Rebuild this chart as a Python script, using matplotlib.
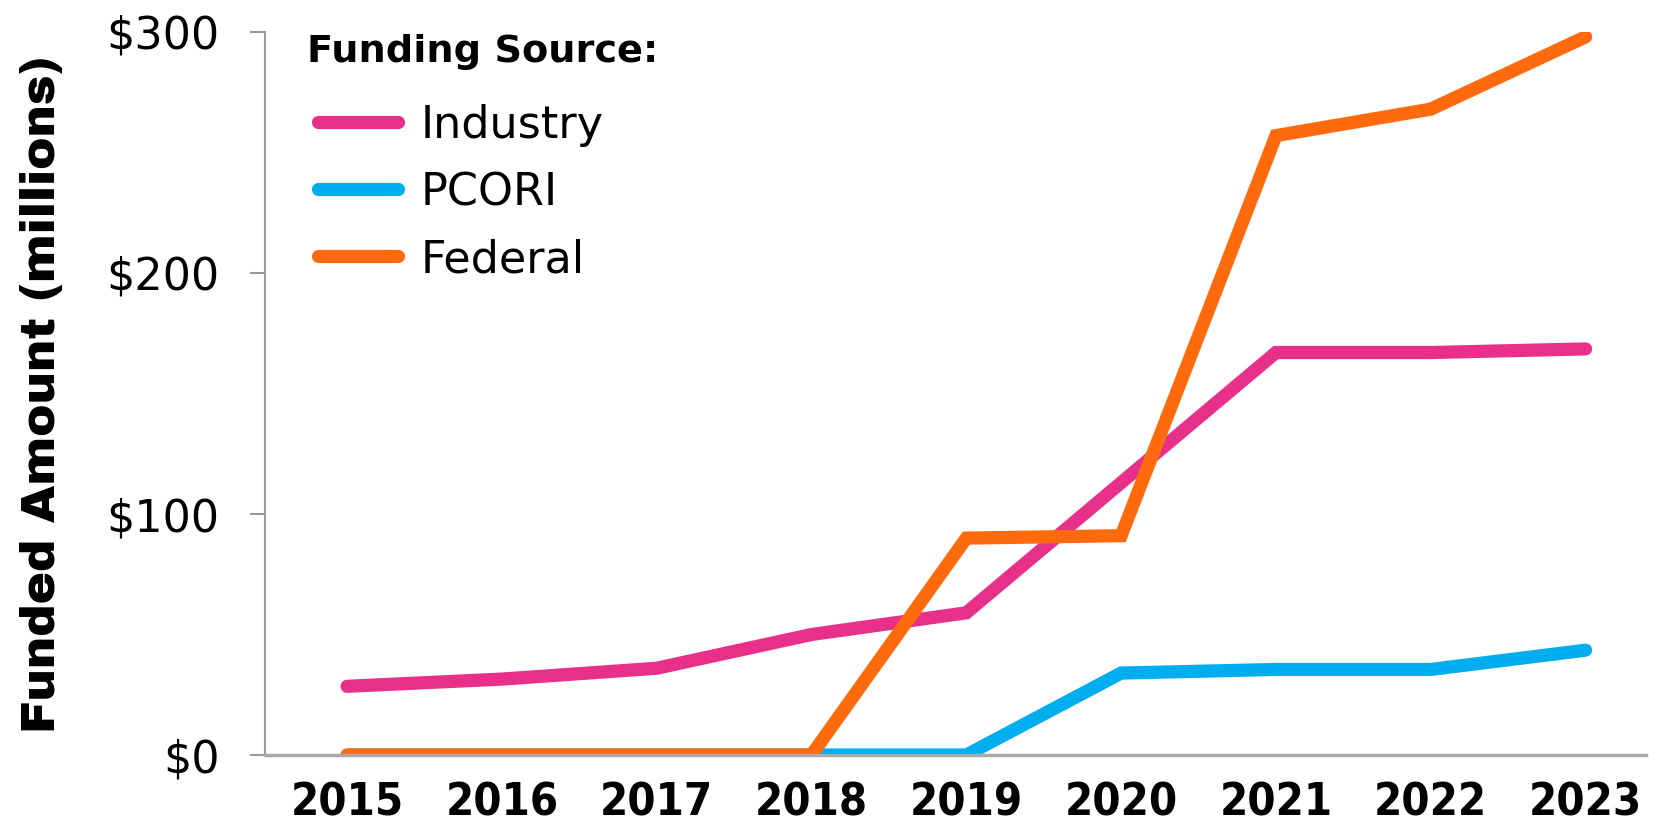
import numpy as np
from matplotlib import pyplot as plt

years = [2015, 2016, 2017, 2018, 2019, 2020, 2021, 2022, 2023]
industry = [28.5, 31.5, 36, 50, 59, 113, 167, 167, 168.5]
pcori = [0, 0, 0, 0, 0, 34, 35.5, 35.5, 43.5]
federal = [0, 0, 0, 0, 90, 91, 257, 268, 298]

series = [("Industry", industry, "#E8308A"),
          ("PCORI", pcori, "#00AEEF"),
          ("Federal", federal, "#FF6A0D")]

W, H = 1660, 822
fig = plt.figure(figsize=(W / 100, H / 100), dpi=100)
ax = fig.add_axes([265 / W, 1 - 755 / H, (1646 - 265) / W, (755 - 32) / H])

for name, vals, col in series:
    ax.plot(years, vals, color=col, lw=9.5, solid_capstyle="round", solid_joinstyle="miter", label=name)

ax.set_ylim(0, 300)
ax.set_xlim(2014.47, 2023.39)
ax.set_yticks([0, 100, 200, 300])
ax.set_yticklabels(["$0", "$100", "$200", "$300"], family="DejaVu Sans", fontsize=32)
ax.set_xticks(years)
ax.set_xticklabels([str(y) for y in years], family="DejaVu Sans", fontstretch="condensed",
                   fontsize=32.5, fontweight="bold")
ax.tick_params(axis="x", length=0, pad=19)
ax.tick_params(axis="y", length=10.8, width=1.5, color="#999999", pad=22)

for s in ["top", "right"]:
    ax.spines[s].set_visible(False)
ax.spines["left"].set_color("#999999")
ax.spines["left"].set_linewidth(1.5)
ax.spines["bottom"].set_color("#aaaaaa")
ax.spines["bottom"].set_linewidth(2.5)

ax.set_ylabel("Funded Amount (millions)", fontsize=35, family="Archivo Black")
ax.yaxis.set_label_coords(64 / W, 1 - 394 / H, transform=fig.transFigure)

leg = ax.legend(loc="upper left", bbox_to_anchor=(318 / W, 1 - 104 / H),
                bbox_transform=fig.transFigure, frameon=False,
                prop={"family": "DejaVu Sans", "size": 32},
                handlelength=1.8, handletextpad=0.5, labelspacing=0.54,
                borderpad=0, borderaxespad=0)
for ln in leg.get_lines():
    ln.set_solid_capstyle("round")
    ln.set_linewidth(9.5)

fig.text(307 / W, 1 - 62 / H, "Funding Source:", family="DejaVu Sans",
         fontweight="bold", fontsize=27.5, va="baseline", ha="left")

fig.savefig("out.png", dpi=100)
